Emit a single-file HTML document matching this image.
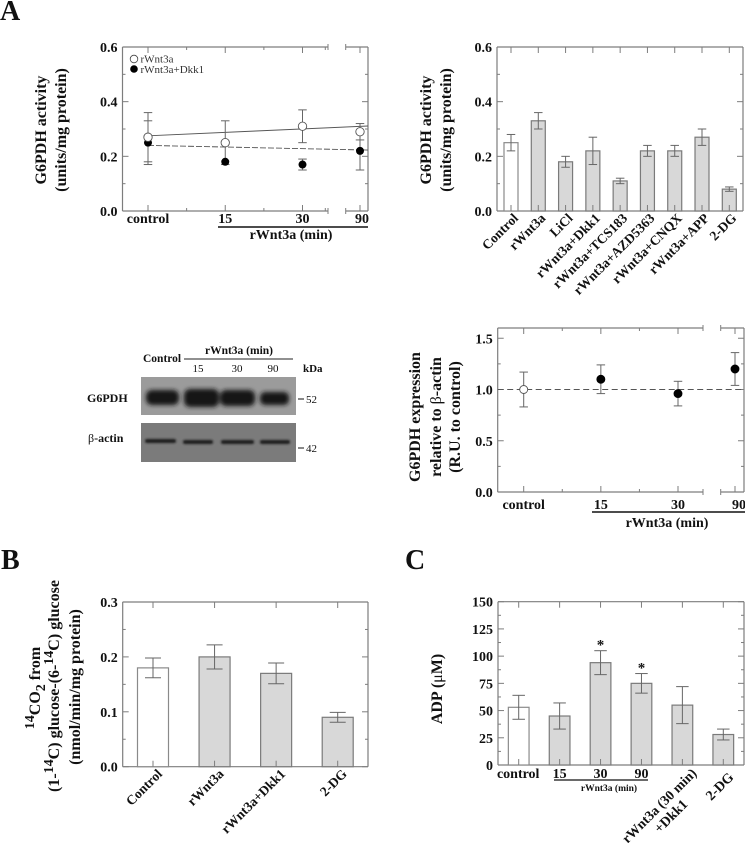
<!DOCTYPE html>
<html lang="en">
<head>
<meta charset="utf-8">
<title>G6PDH activity figure</title>
<style>
html,body{margin:0;padding:0;background:#fff;}
body{width:745px;height:843px;overflow:hidden;}
svg{display:block;filter:blur(0.3px);}
text{font-family:"Liberation Serif",serif;fill:#111;}
.b{font-weight:bold;}
.n{font-weight:normal;}
</style>
</head>
<body>
<svg id="fig" width="745" height="843" viewBox="0 0 745 843" xmlns="http://www.w3.org/2000/svg">
<defs>
<filter id="blur-band" x="-20%" y="-60%" width="140%" height="220%"><feGaussianBlur stdDeviation="2"/></filter>
<filter id="blur-thin" x="-20%" y="-100%" width="140%" height="300%"><feGaussianBlur stdDeviation="1"/></filter>
</defs>

<text class="b" x="0" y="20" font-size="28">A</text>
<text class="b" x="1" y="569" font-size="28">B</text>
<text class="b" x="405" y="569" font-size="28">C</text>

<!-- Chart A1 static text -->
<g class="b" font-size="16" text-anchor="middle">
<text class="b" transform="translate(46,130) rotate(-90)">G6PDH activity</text>
<text class="b" transform="translate(66,130) rotate(-90)">(units/mg protein)</text>
</g>
<g font-size="11">
<circle cx="134" cy="59" r="3.8" fill="#fff" stroke="#444" stroke-width="0.8"/>
<text x="140.5" y="62.5" style="fill:#333">rWnt3a</text>
<circle cx="134" cy="69" r="3.8" fill="#000"/>
<text x="140.5" y="73" style="fill:#333">rWnt3a+Dkk1</text>
</g>
<line x1="218" y1="227" x2="368" y2="227" stroke="#111" stroke-width="1.4"/>
<text class="b" x="291" y="239" font-size="14" text-anchor="middle">rWnt3a (min)</text>

<!-- Chart A2 static text -->
<g font-size="16" text-anchor="middle">
<text class="b" transform="translate(431,130) rotate(-90)">G6PDH activity</text>
<text class="b" transform="translate(451,130) rotate(-90)">(units/mg protein)</text>
</g>

<!-- Western blot -->
<g>
<text class="b" x="143" y="362" font-size="11.5">Control</text>
<line x1="184" y1="359" x2="293" y2="359" stroke="#222" stroke-width="1"/>
<text class="b" x="239" y="354" font-size="11.5" text-anchor="middle">rWnt3a (min)</text>
<text x="198" y="372" font-size="11" text-anchor="middle">15</text>
<text x="237" y="372" font-size="11" text-anchor="middle">30</text>
<text x="273" y="372" font-size="11" text-anchor="middle">90</text>
<text class="b" x="303" y="372" font-size="11">kDa</text>
<text class="b" x="87" y="402" font-size="12">G6PDH</text>
<text class="b" x="88" y="442" font-size="12"><tspan class="n">β</tspan>-actin</text>
<rect x="141" y="377" width="155" height="38" fill="#9b9b9b"/>
<g fill="#161616" filter="url(#blur-band)">
<rect x="146" y="390" width="33" height="15" rx="6"/>
<rect x="184" y="389" width="35" height="18" rx="6"/>
<rect x="220" y="390" width="35" height="16" rx="6"/>
<rect x="260" y="392" width="29" height="13" rx="5"/>
</g>
<rect x="141" y="423" width="155" height="39" fill="#7b7b7b"/>
<g fill="#1c1c1c" filter="url(#blur-thin)">
<rect x="145" y="439" width="31" height="4" rx="2"/>
<rect x="183" y="440" width="30" height="4" rx="2"/>
<rect x="221" y="440" width="33" height="4" rx="2"/>
<rect x="260" y="440" width="30" height="4" rx="2"/>
</g>
<line x1="298" y1="399" x2="304" y2="399" stroke="#111" stroke-width="1"/>
<text x="306" y="403" font-size="11">52</text>
<line x1="298" y1="448" x2="304" y2="448" stroke="#111" stroke-width="1"/>
<text x="306" y="452" font-size="11">42</text>
</g>

<!-- Chart A3 static text -->
<g font-size="16" text-anchor="middle">
<text class="b" transform="translate(420,417) rotate(-90)">G6PDH expression</text>
<text class="b" transform="translate(441,417) rotate(-90)">relative to <tspan class="n">β</tspan>-actin</text>
<text class="b" transform="translate(460,417) rotate(-90)">(R.U. to control)</text>
</g>
<line x1="592" y1="512" x2="745" y2="512" stroke="#111" stroke-width="1.4"/>
<text class="b" x="667" y="527" font-size="14" text-anchor="middle">rWnt3a (min)</text>

<!-- Chart B static text -->
<g font-size="16" text-anchor="middle">
<text class="b" transform="translate(40,688) rotate(-90)"><tspan dy="-6" font-size="14">14</tspan><tspan dy="6">CO</tspan><tspan dy="5" font-size="14">2</tspan><tspan dy="-5"> from</tspan></text>
<text class="b" transform="translate(59,686) rotate(-90)">(1-<tspan dy="-6" font-size="14">14</tspan><tspan dy="6">C) glucose-(6-</tspan><tspan dy="-6" font-size="14">14</tspan><tspan dy="6">C) glucose</tspan></text>
<text class="b" transform="translate(80,687) rotate(-90)">(nmol/min/mg protein)</text>
</g>

<!-- Chart C static text -->
<text class="b" font-size="16" text-anchor="middle" transform="translate(442,689) rotate(-90)">ADP (<tspan class="n">μ</tspan>M)</text>
<line x1="554" y1="780" x2="648" y2="780" stroke="#111" stroke-width="1.2"/>
<text class="b" x="609" y="791" font-size="9.5" text-anchor="middle">rWnt3a (min)</text>
</svg>

<script>
// Panel A, top-left: G6PDH activity time course
var timeLabels = ['control', '15', '30', '90'];
var openValues = [0.27, 0.25, 0.31, 0.29];
var openErrors = [0.09, 0.08, 0.06, 0.03];
var closedValues = [0.25, 0.18, 0.17, 0.22];
var closedErrors = [0.08, 0.00, 0.02, 0.07];
var openFit = [0.275, 0.311];
var closedFit = [0.24, 0.223];
var activityTicks = [0.0, 0.2, 0.4, 0.6];

// Panel A, top-right: G6PDH activity per treatment
var treatmentLabels = ['Control', 'rWnt3a', 'LiCl', 'rWnt3a+Dkk1', 'rWnt3a+TCS183', 'rWnt3a+AZD5363', 'rWnt3a+CNQX', 'rWnt3a+APP', '2-DG'];
var treatmentValues = [0.25, 0.33, 0.18, 0.22, 0.11, 0.22, 0.22, 0.27, 0.08];
var treatmentErrors = [0.03, 0.03, 0.02, 0.05, 0.01, 0.02, 0.02, 0.03, 0.008];

// Panel A, lower-right: G6PDH expression
var expressionValues = [1.0, 1.1, 0.96, 1.2];
var expressionErrors = [0.17, 0.14, 0.12, 0.16];
var expressionBaseline = [1.0];
var expressionTicks = [0.0, 0.5, 1.0, 1.5];

// Panel B: 14CO2 release
var co2Labels = ['Control', 'rWnt3a', 'rWnt3a+Dkk1', '2-DG'];
var co2Values = [0.18, 0.20, 0.17, 0.09];
var co2Errors = [0.018, 0.022, 0.019, 0.009];
var co2Ticks = [0.0, 0.1, 0.2, 0.3];

// Panel C: ADP
var adpLabels = ['control', '15', '30', '90', 'rWnt3a (30 min)', '2-DG'];
var adpValues = [53, 45, 94, 75, 55, 28];
var adpErrors = [11, 12, 11, 9, 17, 5];
var adpStars = ['', '', '*', '*', '', ''];
var adpTicks = [0, 25, 50, 75, 100, 125, 150];

var AXIS = '#7d7d7d';
var ERR = '#666';
var NS = 'http://www.w3.org/2000/svg';
var fig = document.getElementById('fig');

function mk(parent, tag, attrs, name) {
  var el = document.createElementNS(NS, tag);
  for (var k in attrs) el.setAttribute(k, attrs[k]);
  
  
  parent.appendChild(el);
  return el;
}
function line(p, x1, y1, x2, y2, stroke, w, name, dash) {
  var a = {x1: x1, y1: y1, x2: x2, y2: y2, stroke: stroke, 'stroke-width': w};
  if (dash) a['stroke-dasharray'] = dash;
  return mk(p, 'line', a, name);
}
function label(p, x, y, str, size, anchor, name, bold, transform) {
  var a = {x: x, y: y, 'font-size': size, 'text-anchor': anchor};
  if (bold) a['class'] = 'b';
  if (transform) { a = {'font-size': size, 'text-anchor': anchor, transform: transform}; if (bold) a['class'] = 'b'; }
  var t = mk(p, 'text', a, name);
  t.textContent = str;
  return t;
}
function linear(d0, d1, r0, r1) {
  return function (v) { return r0 + (v - d0) / (d1 - d0) * (r1 - r0); };
}
function decimals(v, ticks) {
  var step = ticks[1] - ticks[0];
  return step < 1 ? v.toFixed(1) : String(v);
}

// Frame + y axis. gap = optional [x1,x2] break of the horizontal axes.
function frame(g, box, y, yTicks, minorCount, gap, id) {
  var ax = mk(g, 'g', {}, id + '-axes');
  var l = box.l, r = box.r, t = box.t, b = box.b;
  line(ax, l, t, l, b, AXIS, 1.2, id + '-y-axis-left');
  line(ax, r, t, r, b, AXIS, 1.2, id + '-y-axis-right');
  [t, b].forEach(function (yy) {
    if (gap) {
      line(ax, l, yy, gap[0], yy, AXIS, 1.2, id + '-x-axis-segment');
      line(ax, gap[1], yy, r, yy, AXIS, 1.2, id + '-x-axis-segment');
      gap.forEach(function (gx) { line(ax, gx, yy - 3, gx, yy + 3, AXIS, 1, id + '-axis-break-tick'); });
    } else {
      line(ax, l, yy, r, yy, AXIS, 1.2, id + '-x-axis');
    }
  });
  yTicks.forEach(function (v, i) {
    line(ax, l, y(v), l + 6, y(v), AXIS, 1, id + '-y-tick');
    line(ax, r - 6, y(v), r, y(v), AXIS, 1, id + '-y-tick');
    label(g, l - 5, y(v) + 5, decimals(v, yTicks), 14, 'end', id + '-y-label', true);
    if (i < yTicks.length - 1) {
      for (var m = 1; m <= minorCount; m++) {
        var mv = v + (yTicks[i + 1] - v) * m / (minorCount + 1);
        line(ax, l, y(mv), l + 3, y(mv), AXIS, 1, id + '-y-minor-tick');
        line(ax, r - 3, y(mv), r, y(mv), AXIS, 1, id + '-y-minor-tick');
      }
    }
  });
}
function xTick(g, box, x, len, id) {
  line(g, x, box.t, x, box.t + len, AXIS, 1, id + '-x-tick');
  line(g, x, box.b - len, x, box.b, AXIS, 1, id + '-x-tick');
}
function errorBar(g, x, y, v, e, cap, id) {
  if (!e) return;
  var hi = y(v + e), lo = y(v - e);
  line(g, x, hi, x, lo, ERR, 1, id + '-error-stem');
  line(g, x - cap / 2, hi, x + cap / 2, hi, ERR, 1, id + '-error-cap');
  line(g, x - cap / 2, lo, x + cap / 2, lo, ERR, 1, id + '-error-cap');
}
function bars(g, x, y, box, values, errors, width, cap, id) {
  values.forEach(function (v, i) {
    var first = i === 0;
    mk(g, 'rect', {x: x(i) - width / 2, y: y(v), width: width, height: box.b - y(v),
      fill: first ? '#fff' : '#d8d8d8', stroke: first ? '#8a8a8a' : '#7a7a7a', 'stroke-width': 1.2}, id + '-bar-' + i);
  });
  values.forEach(function (v, i) {
    xTick(g, box, x(i), 6, id);
    errorBar(g, x(i), y, v, errors[i], cap, id);
  });
}

// ---------- Panel A: activity time course ----------
(function () {
  var box = {l: 122.5, r: 368, t: 47, b: 211};
  var g = mk(fig, 'g', {}, 'activity-time-chart');
  var y = linear(0, 0.6, box.b, box.t);
  var xc = linear(0, 2, 148, 302.5);
  var x = function (i) { return i < 3 ? xc(i) : 360; };
  frame(g, box, y, activityTicks, 1, [328, 345.7], 'activity-time');
  [0, 0.5, 1, 1.5, 2, 2.295].forEach(function (u) {
    xTick(g, box, xc(u), (u % 1 === 0) ? 6 : 3, 'activity-time');
  });
  xTick(g, box, x(3), 6, 'activity-time');
  label(g, xc(0) - 0, 223, timeLabels[0], 14, 'middle', 'activity-time-x-label', true);
  label(g, xc(1), 223, timeLabels[1], 14, 'middle', 'activity-time-x-label', true);
  label(g, xc(2), 223, timeLabels[2], 14, 'middle', 'activity-time-x-label', true);
  label(g, 362, 223, timeLabels[3], 14, 'middle', 'activity-time-x-label', true);
  line(g, xc(0), y(openFit[0]), box.r, y(openFit[1]), '#555', 0.9, 'rwnt3a-fit-line');
  line(g, xc(0), y(closedFit[0]), box.r, y(closedFit[1]), '#555', 0.9, 'dkk1-fit-line', '6 2');
  closedValues.forEach(function (v, i) { errorBar(g, x(i), y, v, closedErrors[i], 8.5, 'dkk1'); });
  openValues.forEach(function (v, i) { errorBar(g, x(i), y, v, openErrors[i], 8.5, 'rwnt3a'); });
  closedValues.forEach(function (v, i) {
    mk(g, 'circle', {cx: x(i), cy: y(v), r: 4, fill: '#000'}, 'dkk1-point-' + timeLabels[i]);
  });
  openValues.forEach(function (v, i) {
    mk(g, 'circle', {cx: x(i), cy: y(v), r: 4.2, fill: '#fff', stroke: '#555', 'stroke-width': 0.9}, 'rwnt3a-point-' + timeLabels[i]);
  });
})();

// ---------- Panel A: activity per treatment ----------
(function () {
  var box = {l: 497, r: 743, t: 47, b: 211};
  var g = mk(fig, 'g', {}, 'activity-bars-chart');
  var y = linear(0, 0.6, box.b, box.t);
  var x = linear(0, treatmentLabels.length - 1, 511, 729.3);
  frame(g, box, y, activityTicks, 1, null, 'activity-bars');
  bars(g, x, y, box, treatmentValues, treatmentErrors, 14, 8.5, 'activity-bars');
  treatmentLabels.forEach(function (s, i) {
    var px = x(i) + 8, py = box.b + 8;
    label(g, 0, 0, s, 13.5, 'end', 'activity-bars-x-label', true, 'translate(' + px + ',' + py + ') rotate(-45)');
  });
})();

// ---------- Panel A: expression ----------
(function () {
  var box = {l: 497.7, r: 744, t: 328, b: 492};
  var g = mk(fig, 'g', {}, 'expression-chart');
  var y = linear(0, 1.6, box.b, box.t);
  var xc = linear(0, 2, 523.7, 678);
  var x = function (i) { return i < 3 ? xc(i) : 735; };
  frame(g, box, y, expressionTicks, 1, [703, 720.7], 'expression');
  [0, 0.5, 1, 1.5, 2].forEach(function (u) {
    xTick(g, box, xc(u), (u % 1 === 0) ? 6 : 3, 'expression');
  });
  xTick(g, box, x(3), 6, 'expression');
  label(g, xc(0), 509, timeLabels[0], 14, 'middle', 'expression-x-label', true);
  label(g, xc(1), 509, timeLabels[1], 14, 'middle', 'expression-x-label', true);
  label(g, xc(2), 509, timeLabels[2], 14, 'middle', 'expression-x-label', true);
  label(g, 739, 509, timeLabels[3], 14, 'middle', 'expression-x-label', true);
  line(g, box.l, y(expressionBaseline[0]), box.r, y(expressionBaseline[0]), '#555', 1, 'expression-baseline', '6 3.5');
  expressionValues.forEach(function (v, i) {
    errorBar(g, x(i), y, v, expressionErrors[i], 8.5, 'expression');
  });
  expressionValues.forEach(function (v, i) {
    var open = i === 0;
    mk(g, 'circle', {cx: x(i), cy: y(v), r: 4, fill: open ? '#fff' : '#000', stroke: open ? '#555' : '#000', 'stroke-width': 0.9}, 'expression-point-' + timeLabels[i]);
  });
})();

// ---------- Panel B ----------
(function () {
  var box = {l: 122.7, r: 368, t: 602, b: 766.7};
  var g = mk(fig, 'g', {}, 'co2-chart');
  var y = linear(0, 0.3, box.b, box.t);
  var x = linear(0, co2Labels.length - 1, 153, 337.7);
  frame(g, box, y, co2Ticks, 1, null, 'co2');
  bars(g, x, y, box, co2Values, co2Errors, 31, 16, 'co2');
  co2Labels.forEach(function (s, i) {
    var px = x(i) + 10, py = box.b + 8;
    label(g, 0, 0, s, 13.5, 'end', 'co2-x-label', true, 'translate(' + px + ',' + py + ') rotate(-45)');
  });
})();

// ---------- Panel C ----------
(function () {
  var box = {l: 498, r: 744, t: 601.7, b: 765};
  var g = mk(fig, 'g', {}, 'adp-chart');
  var y = linear(0, 150, box.b, box.t);
  var x = linear(0, adpLabels.length - 1, 518.7, 723.3);
  frame(g, box, y, adpTicks, 1, null, 'adp');
  bars(g, x, y, box, adpValues, adpErrors, 20.7, 12.5, 'adp');
  adpValues.forEach(function (v, i) {
    if (adpStars[i]) label(g, x(i), y(v + adpErrors[i]) - 1, adpStars[i], 15, 'middle', 'adp-significance-star', true);
  });
  [0, 1, 2, 3].forEach(function (i) {
    label(g, i === 0 ? x(i) - 0.5 : x(i), 778, adpLabels[i], 14, 'middle', 'adp-x-label', true);
  });
  label(g, 0, 0, adpLabels[4], 13.8, 'end', 'adp-x-label', true, 'translate(' + (x(4) + 15) + ',' + (box.b + 9) + ') rotate(-45)');
  label(g, 0, 0, '+Dkk1', 14, 'end', 'adp-x-label', true, 'translate(' + (x(4) + 6) + ',' + (box.b + 40) + ') rotate(-45)');
  label(g, 0, 0, adpLabels[5], 14, 'end', 'adp-x-label', true, 'translate(' + (x(5) + 11) + ',' + (box.b + 13) + ') rotate(-45)');
})();
</script>
</body>
</html>
